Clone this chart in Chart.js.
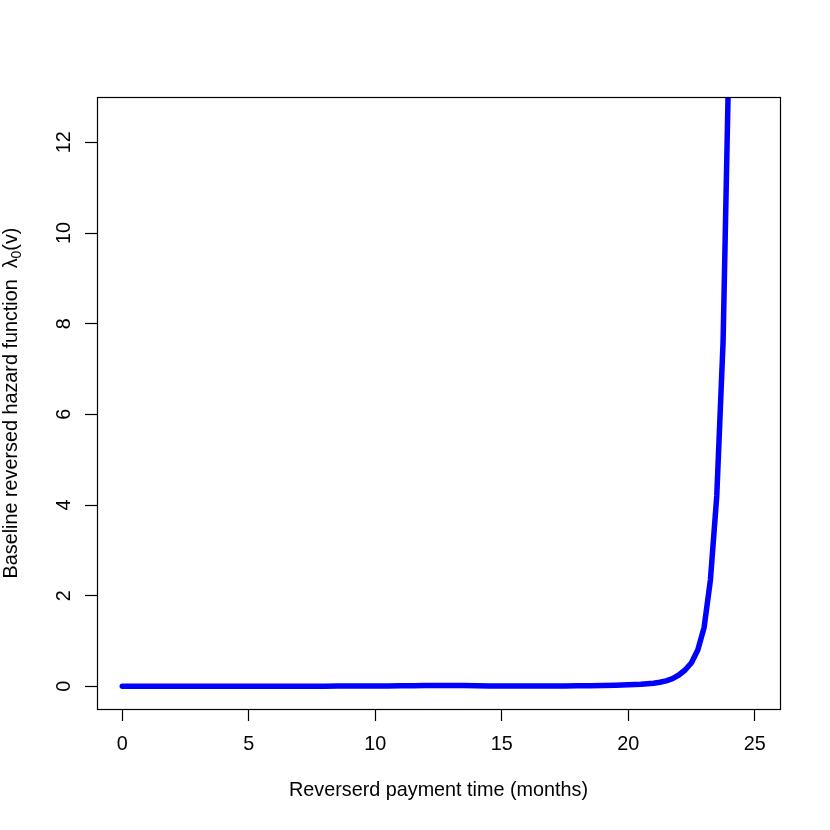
<!DOCTYPE html>
<html>
<head>
<meta charset="utf-8">
<script src="https://cdn.jsdelivr.net/npm/chart.js@4.4.0/dist/chart.umd.min.js"></script>
<style>
  html, body { margin: 0; padding: 0; background: #ffffff; }
  #wrap { width: 830px; height: 830px; }
</style>
</head>
<body>
<div id="wrap"><canvas id="c" width="830" height="830"></canvas></div>
<script>
// Reversed payment time (months)
const months = [
  0, 0.5, 1, 1.5, 2, 2.5, 3, 3.5, 4, 4.5, 5, 5.5, 6, 6.5, 7, 7.5, 8, 8.5, 9, 9.5,
  10, 10.5, 11, 11.5, 12, 12.5, 13, 13.5, 14, 14.5, 15, 15.5, 16, 16.5, 17, 17.5,
  18, 18.5, 19, 19.5, 20, 20.5, 21, 21.25, 21.5, 21.75, 22, 22.25, 22.5, 22.75,
  23, 23.25, 23.5, 23.75, 24
];
// Baseline reversed hazard function lambda_0(v)
const hazard = [
  0.000, 0.001, 0.002, 0.002, 0.003, 0.003, 0.004, 0.004, 0.004, 0.004, 0.004, 0.004,
  0.004, 0.004, 0.004, 0.004, 0.004, 0.005, 0.005, 0.006, 0.007, 0.009, 0.012, 0.015,
  0.018, 0.020, 0.019, 0.016, 0.012, 0.009, 0.007, 0.006, 0.006, 0.007, 0.008, 0.010,
  0.012, 0.015, 0.019, 0.025, 0.034, 0.048, 0.070, 0.090, 0.120, 0.170, 0.250, 0.360,
  0.520, 0.800, 1.300, 2.350, 4.200, 7.600, 14.500
];
const xTicks = [0, 5, 10, 15, 20, 25];
const yTicks = [0, 2, 4, 6, 8, 10, 12];
const xTitle = "Reverserd payment time (months)";
const yTitleMain = "Baseline reversed hazard function  \u03bb";
const yTitleSub = "0";
const yTitleEnd = "(v)";

const FONT_FAMILY = '"Liberation Sans", Arial, Helvetica, sans-serif';
const FS = 19.8;

const framePlugin = {
  id: 'rframe',
  afterDraw(chart) {
    const ctx = chart.ctx;
    const a = chart.chartArea;
    const xs = chart.scales.x, ys = chart.scales.y;
    ctx.save();
    // box
    ctx.strokeStyle = '#000';
    ctx.lineWidth = 1.2;
    ctx.strokeRect(Math.round(a.left) + 0.5, Math.round(a.top) + 0.5,
                   Math.round(a.right - a.left), Math.round(a.bottom - a.top));
    ctx.fillStyle = '#000';
    ctx.font = FS + 'px ' + FONT_FAMILY;
    // y tick labels (rotated, like R las=0)
    yTicks.forEach(v => {
      const py = ys.getPixelForValue(v);
      ctx.save();
      ctx.translate(69.5, py);
      ctx.rotate(-Math.PI / 2);
      ctx.textAlign = 'center';
      ctx.textBaseline = 'alphabetic';
      ctx.fillText(String(v), 0, 0);
      ctx.restore();
    });
    // x title
    ctx.textAlign = 'center';
    ctx.textBaseline = 'alphabetic';
    ctx.fillText(xTitle, (a.left + a.right) / 2, 795.7);
    // y title with subscript
    const subFS = FS * 0.7;
    const wMain = ctx.measureText(yTitleMain).width;
    const wEnd = ctx.measureText(yTitleEnd).width;
    ctx.font = subFS + 'px ' + FONT_FAMILY;
    const wSub = ctx.measureText(yTitleSub).width;
    const total = wMain + wSub + wEnd;
    ctx.save();
    ctx.translate(17.3, (a.top + a.bottom) / 2);
    ctx.rotate(-Math.PI / 2);
    ctx.textAlign = 'left';
    let x0 = -total / 2;
    ctx.font = FS + 'px ' + FONT_FAMILY;
    ctx.fillText(yTitleMain, x0, 0);
    x0 += wMain;
    ctx.font = subFS + 'px ' + FONT_FAMILY;
    ctx.fillText(yTitleSub, x0, 4);
    x0 += wSub;
    ctx.font = FS + 'px ' + FONT_FAMILY;
    ctx.fillText(yTitleEnd, x0, 0);
    ctx.restore();
    ctx.restore();
  }
};

const points = months.map((m, i) => ({ x: m, y: hazard[i] }));

new Chart(document.getElementById('c'), {
  type: 'line',
  data: {
    datasets: [{
      data: points,
      borderColor: '#0000FF',
      borderWidth: 5.5,
      borderCapStyle: 'round',
      borderJoinStyle: 'round',
      pointRadius: 0,
      tension: 0,
      fill: false
    }]
  },
  options: {
    responsive: false,
    animation: false,
    devicePixelRatio: 1,
    layout: { padding: { top: 97, right: 50, left: 0, bottom: 0 } },
    plugins: { legend: { display: false }, tooltip: { enabled: false } },
    scales: {
      x: {
        type: 'linear',
        position: 'bottom',
        min: -1,
        max: 26,
        afterBuildTicks: s => { s.ticks = xTicks.map(v => ({ value: v })); },
        afterFit: s => { s.height = 121; },
        border: { display: false },
        grid: { drawOnChartArea: false, drawTicks: true, tickLength: 12, tickColor: '#000', tickWidth: 1.2 },
        ticks: {
          color: '#000',
          padding: 12,
          maxRotation: 0,
          autoSkip: false,
          font: { family: FONT_FAMILY, size: FS },
          callback: v => String(v)
        }
      },
      y: {
        type: 'linear',
        position: 'left',
        min: -0.5,
        max: 13,
        afterBuildTicks: s => { s.ticks = yTicks.map(v => ({ value: v })); },
        afterFit: s => { s.width = 97; },
        border: { display: false },
        grid: { drawOnChartArea: false, drawTicks: true, tickLength: 12, tickColor: '#000', tickWidth: 1.2 },
        ticks: { display: false }
      }
    }
  },
  plugins: [framePlugin]
});
</script>
</body>
</html>
